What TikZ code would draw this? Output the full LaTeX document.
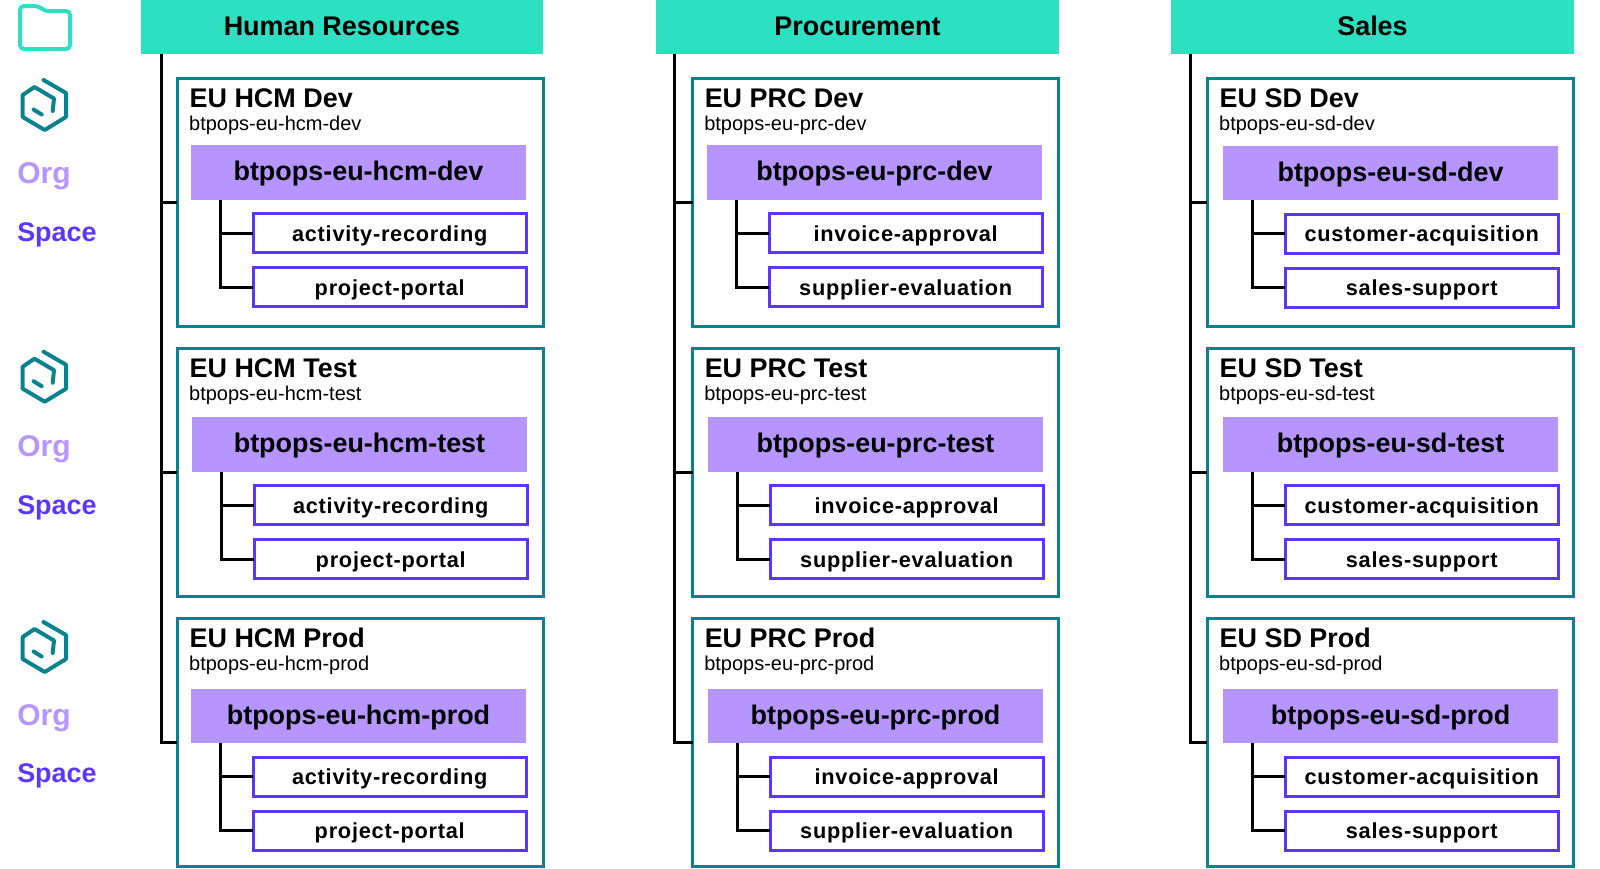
\documentclass[tikz,border=0pt]{standalone}
\usepackage{fontspec}
\setmainfont{Liberation Sans}
\usepackage{xcolor}
\usetikzlibrary{positioning}
\definecolor{subaccent}{HTML}{2DE0C2}
\definecolor{envteal}{HTML}{07838F}
\definecolor{orglilac}{HTML}{B795FF}
\definecolor{spaceblue}{HTML}{5B36FF}
\tikzset{
  acct/.style={fill=subaccent,inner sep=0pt,outer sep=0pt,minimum width=301.9pt,minimum height=40.5pt,
               font=\fontsize{20.2}{24}\selectfont\bfseries,text height=14pt,text depth=2pt},
  envcard/.style={draw=envteal,line width=2.3pt,fill=white,inner sep=0pt,outer sep=0pt,
                  minimum width=274.5pt,minimum height=185.8pt},
  envname/.style={anchor=base west,inner sep=0pt,font=\fontsize{20.2}{24}\selectfont\bfseries},
  envid/.style={anchor=base west,inner sep=0pt,font=\fontsize{15}{18}\selectfont},
  orgbar/.style={fill=orglilac,inner sep=0pt,outer sep=0pt,minimum width=251.25pt,minimum height=40.9pt,
                 font=\fontsize{20.2}{24}\selectfont\bfseries,text height=14pt,text depth=1.3pt},
  spacebox/.style={draw=spaceblue,line width=2.3pt,fill=white,inner sep=0pt,outer sep=0pt,anchor=west,
                   minimum width=204.6pt,minimum height=29.2pt,text height=14pt,text depth=2pt,
                   font=\fontsize{16.3}{19}\selectfont\bfseries\addfontfeature{LetterSpace=3.5}},
  orglabel/.style={anchor=base west,inner sep=0pt,text=orglilac,font=\fontsize{22.5}{26}\selectfont\bfseries},
  spacelabel/.style={anchor=base west,inner sep=0pt,text=spaceblue,font=\fontsize{20.2}{24}\selectfont\bfseries},
  conn/.style={draw=black,line width=2.25pt},
  orgicon/.pic={
    \draw[envteal,line width=3pt,line cap=round,line join=round]
      (43.5,80) -- (66,93) -- (66,117) -- (44.7,130) -- (22.7,117) -- (22.7,95) -- (34.5,87) -- (54,98.5) -- (52.7,111);
    \draw[envteal,line width=3pt,line cap=round] (33.5,109.5) -- (41.7,114.5);
  }
}
% one environment: card, names, org bar, two spaces
\newcommand{\envnode}[9]{
  \node[envcard] (#1) at (#2,#3) {};
  \node[envname] (#1name) at ([shift={(12,28.5)}]#1.north west) {#6};
  \node[envid] (#1id) at ([shift={(11.5,52)}]#1.north west) {#7};
  \node[orgbar] (#1org) at (#4,#5) {#7};
  \node[spacebox] (#1a) at ([shift={(62.3,33.5)}]#1org.south west) {#8};
  \node[spacebox] (#1b) at ([shift={(62.3,87.5)}]#1org.south west) {#9};
  \coordinate (#1stem) at ([xshift=22.3pt]#1org.south west);
  \draw[conn] (#1stem) |- (#1a.west);
  \draw[conn] (#1stem) |- (#1b.west);
}
\begin{document}
\begin{tikzpicture}[x=0.75pt,y=-0.75pt]
    \useasboundingbox (0,0) rectangle (1600,868);
    % icons and legend
    \draw[subaccent,line width=3pt,line join=round,rounded corners=3pt]
      (20,49) -- (20,6) -- (39,6) -- (44,11) -- (70,11) -- (70,49) -- cycle;
    \pic at (0,0) {orgicon};
    \pic at (0,271.7) {orgicon};
    \pic at (0,542) {orgicon};
    \node[orglabel] (orgone) at (17,183) {Org};
    \node[spacelabel] (spaceone) at (17,241.5) {Space};
    \node[orglabel] (orgtwo) at (17,456) {Org};
    \node[spacelabel] (spacetwo) at (17,514) {Space};
    \node[orglabel] (orgthree) at (17,725) {Org};
    \node[spacelabel] (spacethree) at (17,782.5) {Space};
    % subaccounts
    \node[acct] (hr) at (342,27) {Human Resources};
    \node[acct] (prc) at (857.5,27) {Procurement};
    \node[acct] (sd) at (1372.5,27) {Sales};
    \envnode{hrdev}{360.4}{202.7}{358.5}{172.5}{EU HCM Dev}{btpops-eu-hcm-dev}{activity-recording}{project-portal}
    \envnode{hrtest}{360.4}{472.7}{359.5}{444.5}{EU HCM Test}{btpops-eu-hcm-test}{activity-recording}{project-portal}
    \envnode{hrprod}{360.4}{742.7}{358.5}{716}{EU HCM Prod}{btpops-eu-hcm-prod}{activity-recording}{project-portal}
    \envnode{prcdev}{875.5}{202.7}{874.5}{172.5}{EU PRC Dev}{btpops-eu-prc-dev}{invoice-approval}{supplier-evaluation}
    \envnode{prctest}{875.5}{472.7}{875.5}{444.5}{EU PRC Test}{btpops-eu-prc-test}{invoice-approval}{supplier-evaluation}
    \envnode{prcprod}{875.5}{742.7}{875.5}{716}{EU PRC Prod}{btpops-eu-prc-prod}{invoice-approval}{supplier-evaluation}
    \envnode{sddev}{1390.4}{202.7}{1390.5}{173}{EU SD Dev}{btpops-eu-sd-dev}{customer-acquisition}{sales-support}
    \envnode{sdtest}{1390.4}{472.7}{1390.5}{444.5}{EU SD Test}{btpops-eu-sd-test}{customer-acquisition}{sales-support}
    \envnode{sdprod}{1390.4}{742.7}{1390.5}{716}{EU SD Prod}{btpops-eu-sd-prod}{customer-acquisition}{sales-support}
    % trunks
    \coordinate (hrtrunk) at (161.7,54);
    \coordinate (prctrunk) at (674.3,54);
    \coordinate (sdtrunk) at (1190,54);
    \draw[conn] (hrtrunk) |- (hrprod.west);
    \draw[conn] (hrtrunk |- hrdev.west) -- (hrdev.west);
    \draw[conn] (hrtrunk |- hrtest.west) -- (hrtest.west);
    \draw[conn] (prctrunk) |- (prcprod.west);
    \draw[conn] (prctrunk |- prcdev.west) -- (prcdev.west);
    \draw[conn] (prctrunk |- prctest.west) -- (prctest.west);
    \draw[conn] (sdtrunk) |- (sdprod.west);
    \draw[conn] (sdtrunk |- sddev.west) -- (sddev.west);
    \draw[conn] (sdtrunk |- sdtest.west) -- (sdtest.west);
\end{tikzpicture}
\end{document}
